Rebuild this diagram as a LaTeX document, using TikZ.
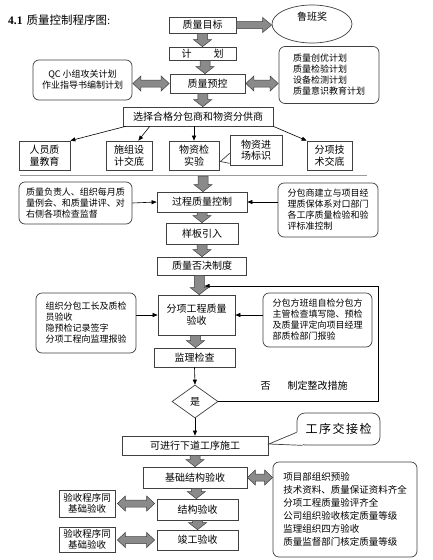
\documentclass[tikz,border=0pt]{standalone}
\usepackage{fontspec}
\setmainfont{Liberation Serif}
\newfontfamily\cjk{Noto Sans CJK SC}
\usetikzlibrary{shapes.geometric,calc,arrows.meta}
\definecolor{linec}{HTML}{404040}
\definecolor{fatc}{HTML}{8A8A8A}
\definecolor{sepc}{HTML}{9A9A9A}
\newcommand\fatdown[2]{%
  \draw[fat] let \p1=(#1.south), \p2=(#2.north), \n1={(\x1+\x2)/2} in
    (\n1-5pt,\y1) -- (\n1+5pt,\y1) -- (\n1+5pt,\y2+7pt) -- (\n1+9pt,\y2+7pt)
    -- (\n1,\y2) -- (\n1-9pt,\y2+7pt) -- (\n1-5pt,\y2+7pt) -- cycle;}
\newcommand\fatright[2]{%
  \draw[fat] let \p1=(#1.east), \p2=(#2.west) in
    (\x1,\y1+3.5pt) -- (\x2-9pt,\y1+3.5pt) -- (\x2-9pt,\y1+7.5pt) -- (\x2,\y1)
    -- (\x2-9pt,\y1-7.5pt) -- (\x2-9pt,\y1-3.5pt) -- (\x1,\y1-3.5pt) -- cycle;}
% double arrow between #1 (left) and #2 (right), at the height of #3, gap #4
\newcommand\fatdbl[4]{%
  \draw[fat] let \p1=(#1.east), \p2=(#2.west), \p3=(#3) in
    (\x1+#4,\y3) -- (\x1+#4+8pt,\y3+7.5pt) -- (\x1+#4+8pt,\y3+3.5pt) -- (\x2-#4-8pt,\y3+3.5pt)
    -- (\x2-#4-8pt,\y3+7.5pt) -- (\x2-#4,\y3) -- (\x2-#4-8pt,\y3-7.5pt) -- (\x2-#4-8pt,\y3-3.5pt)
    -- (\x1+#4+8pt,\y3-3.5pt) -- (\x1+#4+8pt,\y3-7.5pt) -- cycle;}
\begin{document}
\begin{tikzpicture}[x=1pt,y=-1pt,
  box/.style={draw=linec, fill=white, line width=0.7pt, inner sep=0pt,
    font=\cjk\fontsize{10}{12}\selectfont, align=center},
  rbox/.style={draw=linec, fill=white, line width=0.7pt, rounded corners=6pt,
    inner sep=2pt, font=\cjk\fontsize{9}{11}\selectfont, align=left},
  thinarr/.style={draw=black, line width=0.6pt, -{Triangle[length=5pt,width=4pt]}},
  fat/.style={fill=fatc, draw=linec, line width=0.5pt},
  ptr/.style={draw=linec, line width=0.7pt, line join=miter},
  txt/.style={inner sep=0pt, font=\cjk\fontsize{10}{12}\selectfont}]
\useasboundingbox (0,0) rectangle (432,560);
\fill[white] (0,0) rectangle (432,560);

% title
\node[anchor=west, inner sep=0pt, font=\fontsize{11.5}{13}\selectfont] (title) at (8,20)
  {\textbf{4.1}\hspace{4pt}{\cjk 质量控制程序图}:};

% top chain
\node[box, minimum width=67pt, minimum height=16pt] (goal) at (202.5,25) {质量目标};
\node[ellipse, draw=linec, line width=0.7pt, fill=white, minimum width=80pt, minimum height=38pt] (lb) at (312,24) {};
\node[txt] (lbt) at (312,17) {鲁班奖};
\node[box, minimum width=67pt, minimum height=13pt] (plan) at (202.5,53.5) {计\hspace{22pt}划};
\node[box, minimum width=75pt, minimum height=19pt] (pre) at (207.5,83.5) {质量预控};
\node[rbox, minimum width=99pt, minimum height=40pt, align=center] (qc) at (82.5,80)
  {QC 小组攻关计划\\作业指导书编制计划};
\node[rbox, minimum width=100pt, minimum height=57pt] (plans) at (329,75)
  {质量创优计划\\质量检验计划\\设备检测计划\\质量意识教育计划};

\node[box, minimum width=150pt, minimum height=19pt] (sel) at (198,116.5) {选择合格分包商和物资分供商};
\node[box, minimum width=51pt, minimum height=29pt] (renyuan) at (44.5,155.5) {人员质\\量教育};
\node[box, minimum width=46pt, minimum height=29pt] (shizu) at (129,155.5) {施组设\\计交底};
\node[box, minimum width=50pt, minimum height=29pt] (wuzi) at (194,155.5) {物资检\\实验};
\node[box, minimum width=52pt, minimum height=30pt, font=\cjk\fontsize{10}{11}\selectfont] (wzbs) at (256,150) {物资进\\场标识};
\coordinate (wtip) at ($(wuzi.east)+(1,6)$);
\coordinate (wp1) at ($(wzbs.south west)+(0,-12)$);
\coordinate (wp2) at ($(wzbs.south west)+(0,-2)$);
\draw[white, line width=1.4pt] (wp1) -- (wp2);
\draw[ptr] (wp1) -- (wtip) -- (wp2);
\node[box, minimum width=45pt, minimum height=29pt] (jishu) at (329.5,155.5) {分项技\\术交底};

\draw[thinarr] ($(sel.south west)!0.02!(sel.south east)$) -- (renyuan.north east);
\draw[thinarr] ($(sel.south west)!0.18!(sel.south east)$) -- ($(shizu.north)!0.4!(shizu.north east)$);
\draw[thinarr] (sel.south -| wuzi.north) -- (wuzi.north);
\draw[thinarr] (sel.south east) -- (jishu.north west);

\node[inner sep=0pt, minimum size=0pt] (sepl) at (20,175) {};
\node[inner sep=0pt, minimum size=0pt] (sepr) at (367,175) {};
\draw[sepc, line width=1pt] (sepl) -- (sepr);
\node[inner sep=0pt, minimum size=0pt] (sepm) at (204,176) {};

% process control
\node[box, minimum width=90pt, minimum height=20pt] (proc) at (202,202) {过程质量控制};
\node[rbox, minimum width=113pt, minimum height=42pt] (lbox1) at (75.5,203)
  {质量负责人、组织每月质\\量例会、和质量讲评、对\\右侧各项检查监督};
\node[rbox, minimum width=100pt, minimum height=54pt] (rbox1) at (328,210)
  {分包商建立与项目经\\理质保体系对口部门\\各工序质量检验和验\\评标准控制};
\draw[thinarr] (lbox1.east) -- (proc.west);
\draw[thinarr] (proc.east -| rbox1.west) -- (proc.east);

\node[box, minimum width=72pt, minimum height=21pt] (yangban) at (202,233.5) {样板引入};
\node[box, minimum width=89pt, minimum height=18pt] (foujue) at (202,266) {质量否决制度};

\node[box, minimum width=77pt, minimum height=40pt] (fenxiang) at (196.5,315) {分项工程质量\\验收};
\node[rbox, minimum width=100pt, minimum height=60pt] (lbox2) at (86,323)
  {组织分包工长及质检\\员验收\\隐预检记录签字\\分项工程向监理报验};
\node[rbox, minimum width=109pt, minimum height=54pt] (rbox2) at (317.5,320)
  {分包方班组自检分包方\\主管检查填写隐、预检\\及质量评定向项目经理\\部质检部门报验};
\draw[thinarr] (fenxiang.west -| lbox2.east) -- (fenxiang.west);
\draw[thinarr] (fenxiang.east -| rbox2.west) -- (fenxiang.east);

\node[box, minimum width=81pt, minimum height=19pt] (jianli) at (194.5,357.5) {监理检查};
\node[diamond, draw=linec, fill=white, line width=0.7pt, inner sep=0pt, aspect=1.4,
  minimum width=46pt, minimum height=33pt, font=\cjk\fontsize{10}{12}\selectfont] (dia) at (195,401.5) {是};
\node[txt] (no) at (304,386) {否\hspace{17pt}制定整改措施};

\node[box, minimum width=146pt, minimum height=19pt] (next) at (195,445.5) {可进行下道工序施工};
\node[draw=linec, fill=white, line width=0.7pt, rounded corners=8pt,
  inner sep=0pt, minimum width=83pt, minimum height=32pt,
  font=\cjk\fontsize{12}{14}\selectfont] (jjj) at (338.5,429)
  {工\hspace{1.5pt}序\hspace{1.5pt}交\hspace{1.5pt}接\hspace{1.5pt}检};
\coordinate (jtip) at ($(next.east)+(0.5,-1.5)$);
\coordinate (jp1) at ($(jjj.south west)+(0,-13)$);
\coordinate (jp2) at ($(jjj.south west)+(6,0)$);
\fill[white] ($(jjj.south west)+(-1,-13)$) rectangle ($(jjj.south west)+(6,1)$);
\draw[ptr] (jp1) -- (jtip) -- (jp2);

\node[box, minimum width=104pt, minimum height=21pt] (jichu) at (195,477.5) {基础结构验收};
\node[rbox, minimum width=144pt, minimum height=95pt, font=\cjk\fontsize{9.5}{13}\selectfont] (rbox3) at (345,509.5)
  {项目部组织预验\\技术资料、质量保证资料齐全\\分项工程质量验评齐全\\公司组织验收核定质量等级\\监理组织四方验收\\质量监督部门核定质量等级};
\node[box, minimum width=81pt, minimum height=21pt] (jiegou) at (197.5,509.5) {结构验收};
\node[box, minimum width=81pt, minimum height=20pt] (jungong) at (197.5,540) {竣工验收};
\node[box, minimum width=56pt, minimum height=27pt, font=\cjk\fontsize{9.5}{11}\selectfont] (same1) at (87,503.5) {验收程序同\\基础验收};
\node[box, minimum width=56pt, minimum height=25pt, font=\cjk\fontsize{9.5}{11}\selectfont] (same2) at (87,539.5) {验收程序同\\基础验收};

% thin arrows around the decision
\draw[thinarr] (jianli.south) -- (dia.north);
\draw[thinarr] (dia.south) -- (next.north);
\coordinate (fb) at (378,286);
\coordinate (fbend) at (204.5,286);
\draw[thinarr] (dia.east) -| (fb) -- (fbend);

% fat arrows
\fatright{goal}{lb}
\fatdown{goal}{plan}
\fatdown{plan}{pre}
\fatdown{pre}{sel}
\fatdown{sepm}{proc}
\fatdown{proc}{yangban}
\fatdown{yangban}{foujue}
\fatdown{foujue}{fenxiang}
\fatdown{fenxiang}{jianli}
\fatdown{next}{jichu}
\fatdown{jichu}{jiegou}
\fatdown{jiegou}{jungong}
\fatdbl{qc}{pre}{pre.center}{0.5pt}
\fatdbl{pre}{plans}{pre.center}{0.5pt}
\fatdbl{jichu}{rbox3}{jichu.center}{0pt}
\fatdbl{same1}{jiegou}{same1.center}{2pt}
\fatdbl{same2}{jungong}{jungong.center}{2pt}
\end{tikzpicture}
\end{document}
